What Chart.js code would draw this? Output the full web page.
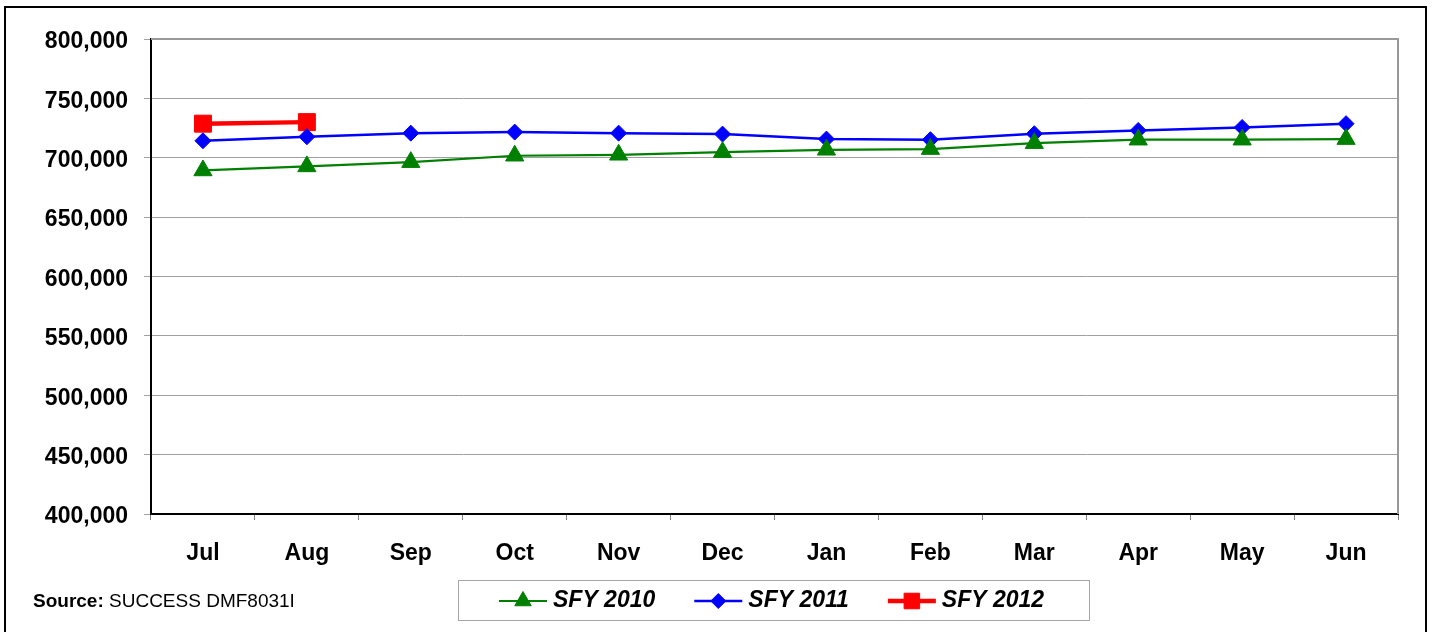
<!DOCTYPE html>
<html>
<head>
<meta charset="utf-8">
<script src="https://cdn.jsdelivr.net/npm/chart.js@4.4.1/dist/chart.umd.min.js"></script>
<style>
  html, body { margin: 0; padding: 0; background: #fff; overflow: hidden; }
  #wrap { position: relative; width: 1433px; height: 632px; }
  #frame { position: absolute; left: 4px; top: 6px; width: 1423px; height: 700px; border: 2px solid #000; box-sizing: border-box; pointer-events: none; }
  #source { position: absolute; left: 33px; top: 591px; font: 19px/19px "Liberation Sans", Arial, sans-serif; color: #000; white-space: nowrap; }
  #source b { font-weight: bold; }
</style>
</head>
<body>
<div id="wrap">
  <canvas id="c" width="1433" height="632"></canvas>
  <div id="frame"></div>
  <div id="source"><b>Source:</b> SUCCESS DMF8031I</div>
</div>
<script>
// ---- data ----
const months = ['Jul', 'Aug', 'Sep', 'Oct', 'Nov', 'Dec', 'Jan', 'Feb', 'Mar', 'Apr', 'May', 'Jun'];
const seriesNames = ['SFY 2010', 'SFY 2011', 'SFY 2012'];
const sfy2010 = [689300, 692700, 696300, 701700, 702500, 704700, 706700, 707300, 712300, 715200, 715200, 715700];
const sfy2011 = [714300, 717700, 720700, 721600, 720700, 719900, 715700, 715200, 720200, 723000, 725500, 728700];
const sfy2012 = [728700, 730000];
const yMin = 400000, yMax = 800000, yStep = 50000;

const FONT = '"Liberation Sans", Arial, sans-serif';

const legendMarkers = [
  { style: 'triangle', r: 9.5 },
  { style: 'rectRot', r: 7.5 },
  { style: 'rect', r: 11 }
];

const framePlugin = {
  id: 'frame',
  afterDraw(chart) {
    const { ctx, chartArea: a } = chart;
    ctx.save();
    ctx.strokeStyle = '#999999';
    ctx.lineWidth = 2;
    ctx.beginPath();
    ctx.moveTo(a.left, a.top);
    ctx.lineTo(a.right, a.top);
    ctx.lineTo(a.right, a.bottom);
    ctx.stroke();
    ctx.restore();
  }
};

const legendPlugin = {
  id: 'customLegend',
  afterDraw(chart) {
    const ctx = chart.ctx;
    ctx.save();
    ctx.strokeStyle = '#a6a6a6';
    ctx.lineWidth = 1;
    ctx.strokeRect(458.5, 580.5, 631, 40);
    ctx.font = 'italic bold 23px ' + FONT;
    ctx.textBaseline = 'middle';
    ctx.textAlign = 'left';
    let x = 499;
    const y = 601;
    chart.data.datasets.forEach((ds, i) => {
      const lineLen = 48;
      ctx.strokeStyle = ds.borderColor;
      ctx.lineWidth = ds.borderWidth;
      ctx.beginPath();
      ctx.moveTo(x, y);
      ctx.lineTo(x + lineLen, y);
      ctx.stroke();
      ctx.fillStyle = ds.pointBackgroundColor;
      ctx.strokeStyle = ds.pointBorderColor;
      ctx.lineWidth = 1;
      Chart.helpers.drawPoint(ctx, { pointStyle: legendMarkers[i].style, radius: legendMarkers[i].r, rotation: 0, borderWidth: 1 }, x + lineLen / 2, y);
      ctx.fillStyle = '#000';
      const tx = x + lineLen + 6;
      ctx.fillText(ds.label, tx, y);
      x = tx + ctx.measureText(ds.label).width + 39;
    });
    ctx.restore();
  }
};

const mk = (label, data, color, width, style, r) => ({
  label, data,
  borderColor: color, backgroundColor: color,
  borderWidth: width,
  pointStyle: style, pointRadius: r, pointHoverRadius: r,
  pointBackgroundColor: color, pointBorderColor: color, pointBorderWidth: 1,
  tension: 0, fill: false
});

new Chart(document.getElementById('c'), {
  type: 'line',
  data: {
    labels: months,
    datasets: [
      mk(seriesNames[0], sfy2010, '#008000', 2.2, 'triangle', 10.5),
      mk(seriesNames[1], sfy2011, '#0000ff', 2.5, 'rectRot', 8),
      mk(seriesNames[2], sfy2012, '#ff0000', 4.5, 'rect', 12)
    ]
  },
  options: {
    responsive: false,
    animation: false,
    devicePixelRatio: 1,
    layout: { padding: { top: 39, right: 35, bottom: 0, left: 0 } },
    plugins: { legend: { display: false }, tooltip: { enabled: false } },
    scales: {
      x: {
        offset: true,
        grid: { offset: true, drawOnChartArea: false, drawTicks: true, tickLength: 6, color: '#808080', lineWidth: 1 },
        border: { color: '#000', width: 2 },
        ticks: { color: '#000', font: { family: FONT, size: 23, weight: 'bold' }, padding: 20, maxRotation: 0, autoSkip: false },
        afterFit(scale) { scale.height = 118; }
      },
      y: {
        min: yMin, max: yMax,
        grid: { color: '#a0a0a0', lineWidth: 1, tickLength: 7 },
        border: { color: '#000', width: 2 },
        ticks: {
          stepSize: yStep, color: '#000', padding: 16, labelOffset: 3,
          font: { family: FONT, size: 23, weight: 'bold' },
          callback: v => v.toLocaleString('en-US')
        },
        afterFit(scale) { scale.width = 151; }
      }
    }
  },
  plugins: [framePlugin, legendPlugin]
});
</script>
</body>
</html>
